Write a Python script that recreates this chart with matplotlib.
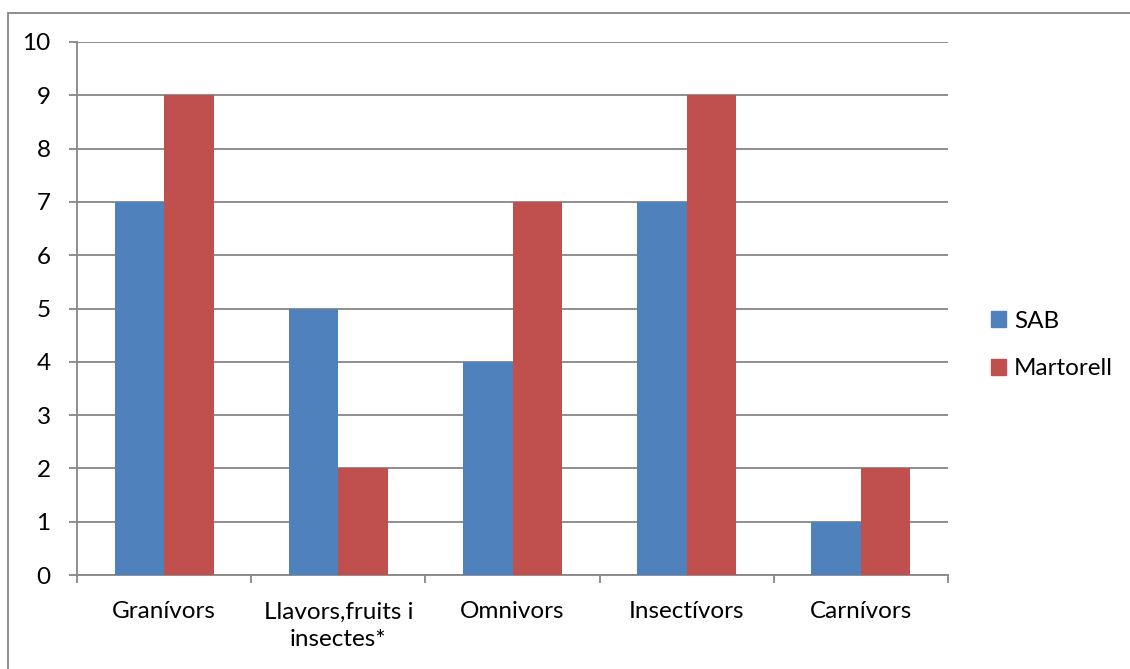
import matplotlib
matplotlib.use("Agg")
import matplotlib.pyplot as plt
import matplotlib.patches as mpatches
import numpy as np

categories = ["Granívors", "Llavors,fruits i\ninsectes*", "Omnivors", "Insectívors", "Carnívors"]
sab = [7, 5, 4, 7, 1]
martorell = [9, 2, 7, 9, 2]
series_names = ["SAB", "Martorell"]
y_ticks = list(range(0, 11))

plt.rcParams['font.family'] = ['Lato', 'DejaVu Sans']
blue = "#4F81BD"
red = "#C0504D"
grid_c = "#868686"
fs = 17.5

fig = plt.figure(figsize=(11.30, 6.69), dpi=100)
ax = fig.add_axes([77/1130, 1-575/669, (948-77)/1130, (575-42)/669])

x = np.arange(len(categories))
w = 0.284
ax.bar(x - w/2, sab, w, color=blue, label=series_names[0], zorder=3)
ax.bar(x + w/2, martorell, w, color=red, label=series_names[1], zorder=3)

ax.set_xlim(-0.5, len(categories) - 0.5)
ax.set_ylim(0, 10)
ax.set_yticks(y_ticks)
ax.set_yticklabels([str(t) for t in y_ticks])
ax.yaxis.grid(True, color=grid_c, linewidth=1.3, zorder=0)
ax.set_axisbelow(True)

# category boundary tick marks
ax.set_xticks(np.arange(-0.5, len(categories)))
ax.set_xticklabels([])
ax.tick_params(axis='x', length=6, width=1.3, color=grid_c, direction='out')
ax.tick_params(axis='y', length=6, width=1.3, color=grid_c, pad=13, labelsize=fs)

# category labels, centred (each line centred)
for xi, cat in zip(x, categories):
    ax.annotate(cat, xy=(xi, 0), xycoords=('data', 'axes fraction'),
                xytext=(0, -19), textcoords='offset points',
                ha='center', va='top', multialignment='center',
                linespacing=1.4, fontsize=fs, color='black', annotation_clip=False)

for s in ['top', 'right']:
    ax.spines[s].set_visible(False)
for s in ['left', 'bottom']:
    ax.spines[s].set_color(grid_c)
    ax.spines[s].set_linewidth(1.3)

handles = [mpatches.Patch(color=blue), mpatches.Patch(color=red)]
fig.legend(handles, series_names, loc='center left', bbox_to_anchor=(991/1130, 1-345/669),
           frameon=False, fontsize=fs, handlelength=0.6, handleheight=0.6,
           handletextpad=0.35, labelspacing=1.1, borderaxespad=0, borderpad=0)

border = mpatches.Rectangle((8/1130, -0.1), 1.2, 1-13/669 + 0.1, transform=fig.transFigure,
                            fill=False, edgecolor=grid_c, linewidth=1.3, clip_on=False)
fig.patches.append(border)

fig.savefig("out.png", dpi=100)
